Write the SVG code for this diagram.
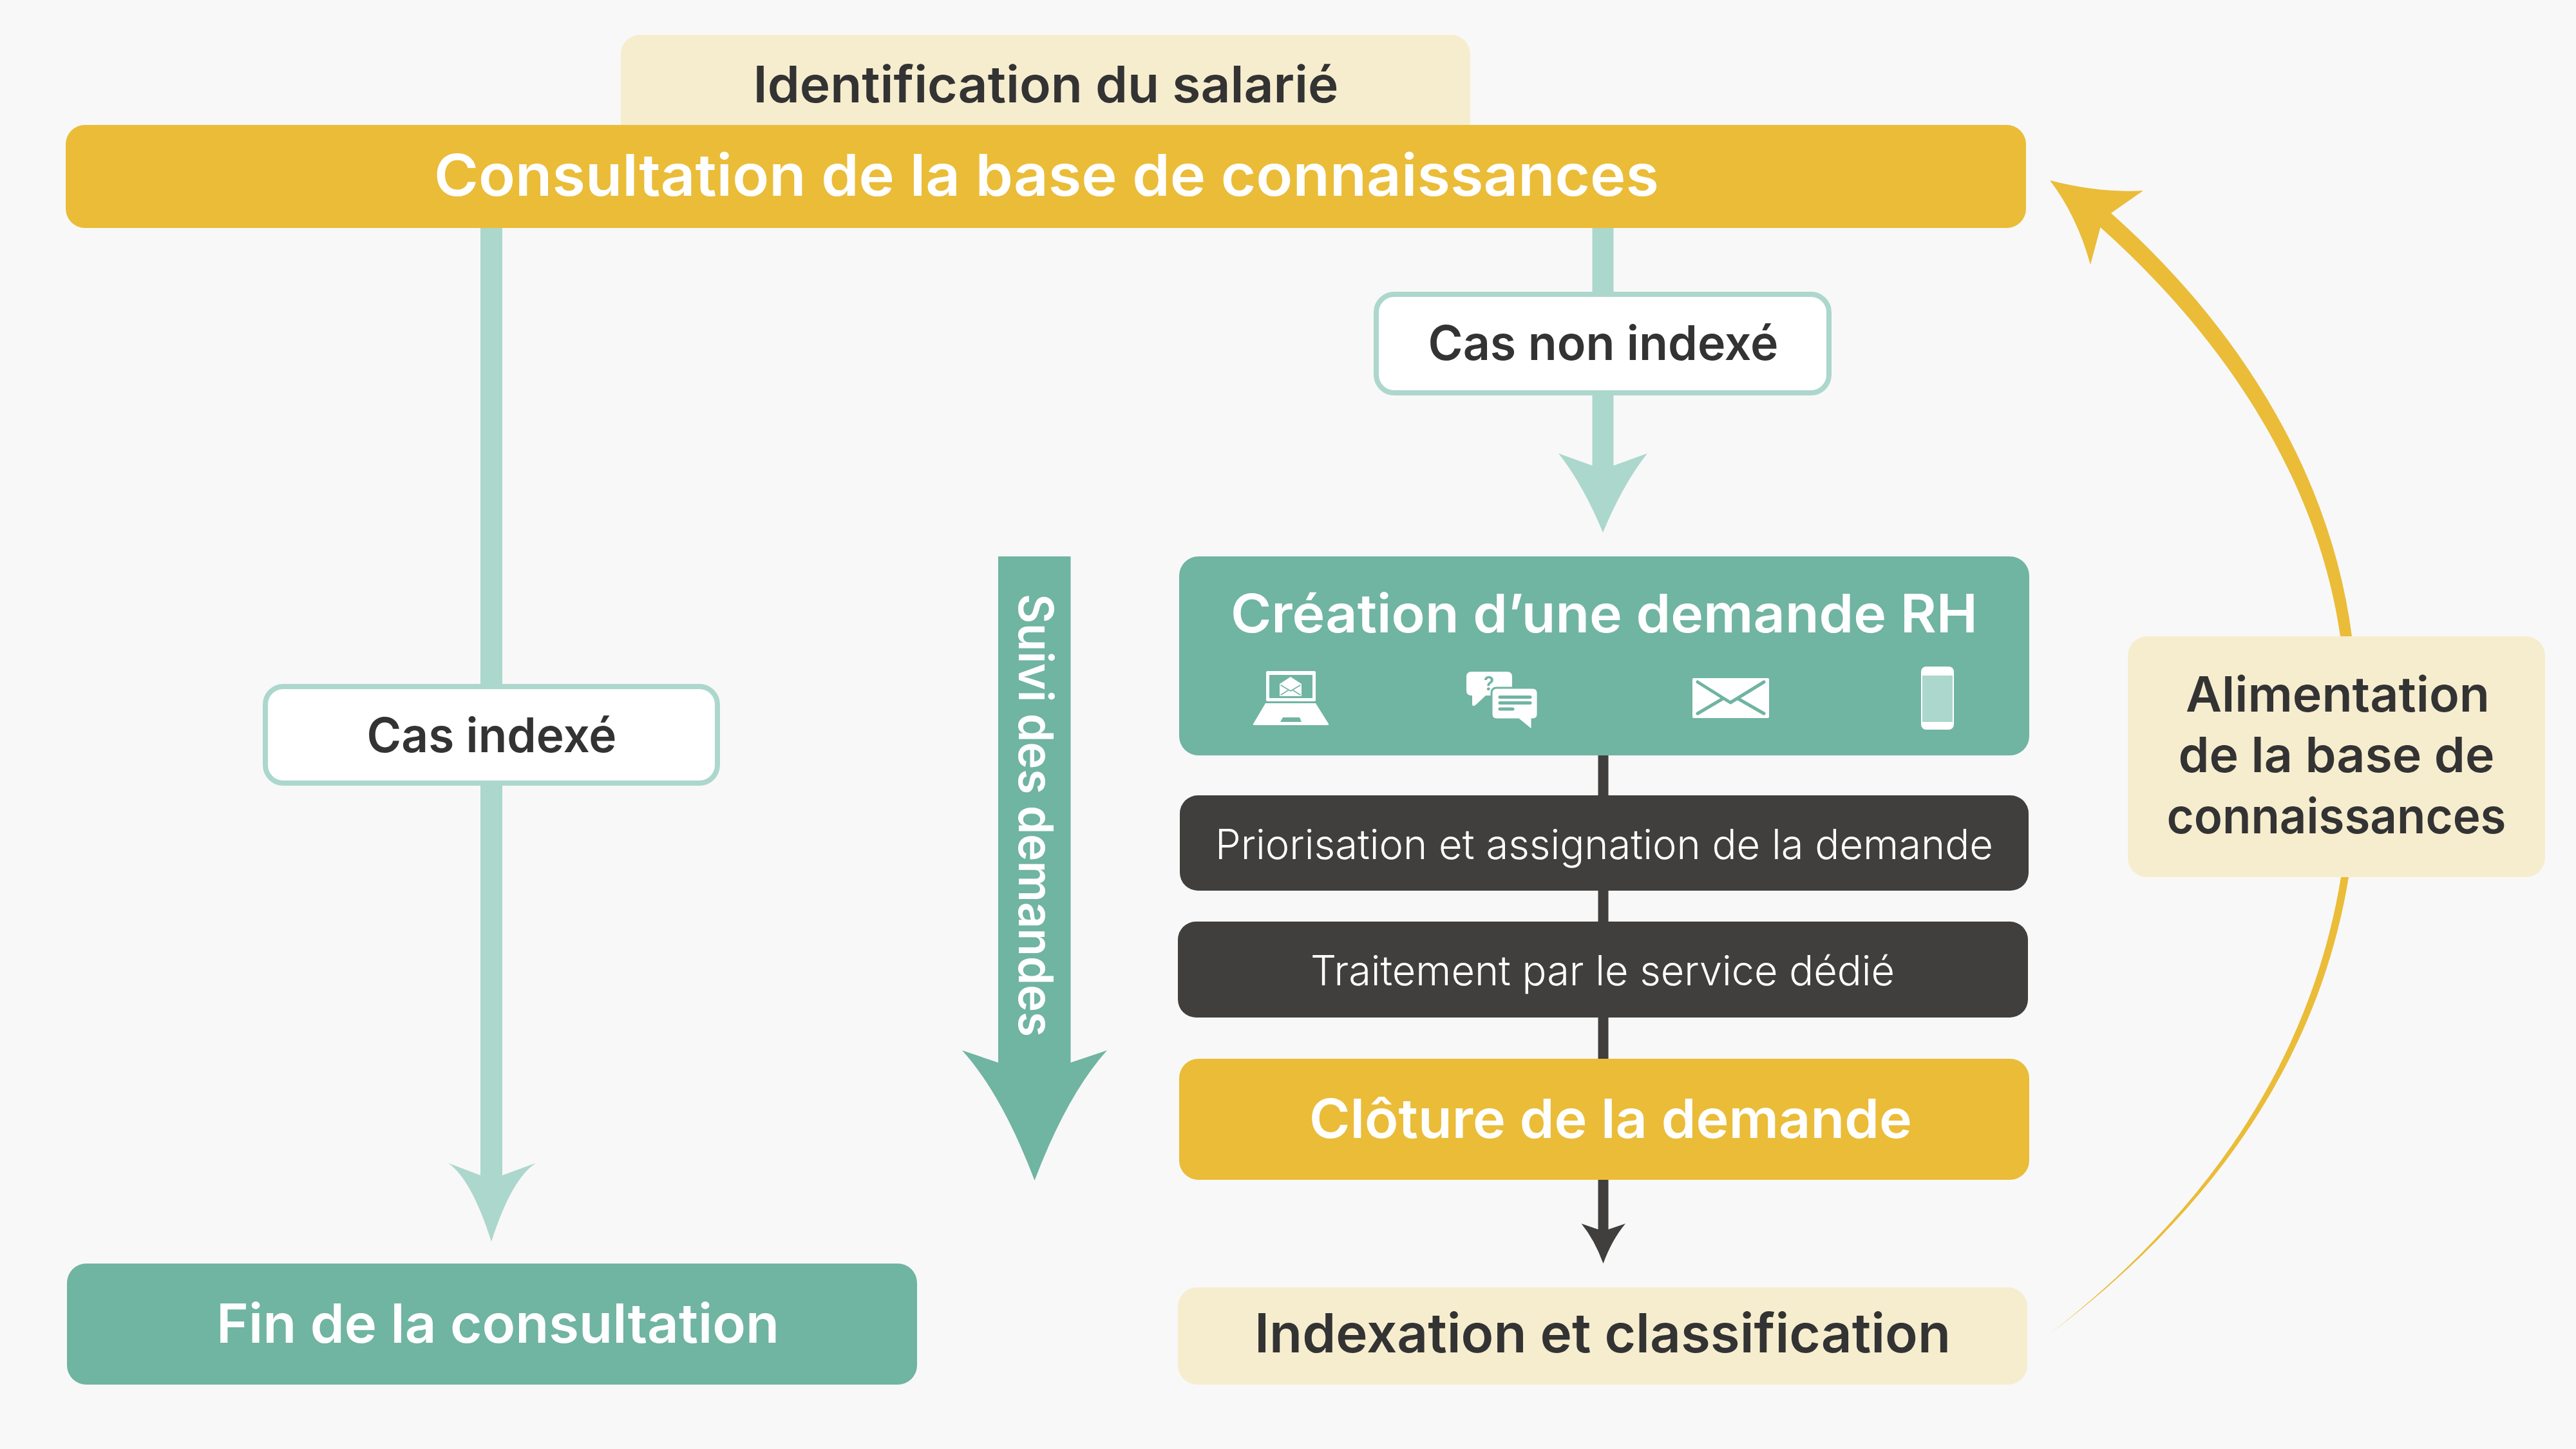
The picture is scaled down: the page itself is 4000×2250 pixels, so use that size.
<svg xmlns="http://www.w3.org/2000/svg" width="4000" height="2250" viewBox="0 0 4000 2250">
<style>
text{font-family:Inter,"Liberation Sans",sans-serif;font-weight:600;text-anchor:middle}
.w{fill:#fff}.d{fill:#333}.thin{font-weight:300}
.gold{fill:#eabc38}.pale{fill:#f6edcf}.teal{fill:#70b4a2}.dark{fill:#403f3d}.lt{fill:#acd7cc}
.lbl{fill:#fff;stroke:#acd7cc;stroke-width:8}
.ic{fill:#fff}.cut{fill:#70b4a2}.ln{fill:none;stroke:#70b4a2;stroke-linecap:round;stroke-linejoin:round}
</style>
<rect width="4000" height="2250" fill="#f8f8f8"/>
<g id="connectors">
<g class="lt">
<rect x="746" y="354" width="34" height="1480"/>
<path d="M763 1928Q732 1831 696 1806L746 1825H780L832 1806Q794 1831 763 1928Z"/>
<rect x="2472.500" y="354" width="33" height="380"/>
<path d="M2489 827Q2458 752 2420 704L2472.500 723H2505.500L2558 704Q2520 752 2489 827Z"/>
</g>
<g class="dark">
<rect x="2481.500" y="1173" width="16" height="745"/>
<path d="M2489.500 1962Q2476 1925 2455.500 1900L2481.500 1909H2497.500L2524 1900Q2503 1925 2489.500 1962Z"/>
</g>
<path id="suivi-arrow" class="teal" d="M1550 864H1662.500V1650L1719 1631Q1657 1700 1606.500 1833Q1556 1700 1494 1631L1550 1650Z"/>
<path id="alimentation-arc" class="gold" d="M3183 2071C3430 1885 3600 1650 3647 1362L3652 988C3620 740 3480 510 3278 331L3328 296Q3260 300 3183 280Q3225 335 3246 411L3261.500 353C3460 530 3600 750 3634 988L3635 1362C3588 1650 3424 1884 3183 2071Z"/>
</g>
<g id="identification">
<rect class="pale" x="964" y="54" width="1319" height="170" rx="30"/>
<text class="d" x="1624" y="159" font-size="78" textLength="909" lengthAdjust="spacingAndGlyphs">Identification du salarié</text>
</g>
<g id="consultation">
<rect class="gold" x="102" y="194" width="3044" height="160" rx="30"/>
<text class="w" x="1625" y="304" font-size="90" textLength="1902" lengthAdjust="spacingAndGlyphs">Consultation de la base de connaissances</text>
</g>
<g id="cas-non-indexe">
<rect class="lbl" x="2137" y="457" width="703" height="153" rx="28"/>
<text class="d" x="2489.500" y="559" font-size="74" textLength="544" lengthAdjust="spacingAndGlyphs">Cas non indexé</text>
</g>
<g id="cas-indexe">
<rect class="lbl" x="412" y="1066" width="702" height="150" rx="28"/>
<text class="d" x="763.500" y="1168" font-size="74" textLength="388" lengthAdjust="spacingAndGlyphs">Cas indexé</text>
</g>
<g id="suivi">
<text class="w" transform="translate(1582 1266) rotate(90)" font-size="74" textLength="688" lengthAdjust="spacingAndGlyphs">Suivi des demandes</text>
</g>
<g id="fin">
<rect class="teal" x="104" y="1962" width="1320" height="188" rx="30"/>
<text class="w" x="773" y="2085" font-size="84" textLength="874" lengthAdjust="spacingAndGlyphs">Fin de la consultation</text>
</g>
<g id="creation">
<rect class="teal" x="1831" y="864" width="1320" height="309" rx="30"/>
<text class="w" x="2491" y="982" font-size="82" textLength="1160" lengthAdjust="spacingAndGlyphs">Création d’une demande RH</text>
<g id="icon-laptop">
<rect class="ic" x="1966" y="1042" width="77" height="47" rx="2"/>
<rect class="cut" x="1971" y="1048" width="67" height="36"/>
<path class="ic" d="M2004 1051L2021 1062V1081H1987V1062Z"/>
<path class="ln" stroke-width="1.500" d="M1989 1064L2004 1073L2019 1064M1989 1079L2000 1072M2019 1079L2008 1072"/>
<path class="ic" d="M1965 1092H2043L2063 1124Q2064 1126 2061 1126H1948Q1945 1126 1946 1124Z"/>
<path class="cut" d="M1992 1114H2018L2021 1121H1988Z"/>
</g>
<g id="icon-chat">
<path class="ic" d="M2285 1043H2340Q2348 1043 2348 1051V1072Q2348 1080 2340 1080H2307L2291 1095Q2286 1098 2286 1093V1080H2285Q2277 1080 2277 1072V1051Q2277 1043 2285 1043Z"/>
<text x="2312" y="1072" font-size="30" style="fill:#70b4a2">?</text>
<path class="ic" stroke="#70b4a2" stroke-width="3" d="M2324 1068H2380Q2388 1068 2388 1076V1109Q2388 1117 2380 1117H2379V1130Q2378 1135 2374 1130L2358 1117H2324Q2316 1117 2316 1109V1076Q2316 1068 2324 1068Z"/>
<path class="ln" stroke-width="5" d="M2329 1082.500H2376M2329 1091.500H2376M2329 1101H2349"/>
</g>
<g id="icon-mail">
<rect class="ic" x="2628" y="1053" width="119" height="62" rx="2"/>
<path class="ln" stroke-width="5" d="M2636 1059L2687 1091L2739 1059M2636 1108L2675 1085M2739 1108L2699 1085"/>
</g>
<g id="icon-phone">
<rect class="ic" x="2983" y="1035" width="51" height="98" rx="8"/>
<rect class="lt" x="2985" y="1049" width="47" height="72"/>
</g>
</g>
<g id="priorisation">
<rect class="dark" x="1832" y="1235" width="1318" height="148" rx="28"/>
<text class="w thin" x="2491" y="1334" font-size="64" textLength="1208" lengthAdjust="spacingAndGlyphs">Priorisation et assignation de la demande</text>
</g>
<g id="traitement">
<rect class="dark" x="1829" y="1431" width="1320" height="149" rx="28"/>
<text class="w thin" x="2488.500" y="1530" font-size="64" textLength="907" lengthAdjust="spacingAndGlyphs">Traitement par le service dédié</text>
</g>
<g id="cloture">
<rect class="gold" x="1831" y="1644" width="1320" height="188" rx="30"/>
<text class="w" x="2501" y="1767" font-size="84" textLength="936" lengthAdjust="spacingAndGlyphs">Clôture de la demande</text>
</g>
<g id="indexation">
<rect class="pale" x="1829" y="1999" width="1319" height="151" rx="30"/>
<text class="d" x="2488.500" y="2100" font-size="84" textLength="1081" lengthAdjust="spacingAndGlyphs">Indexation et classification</text>
</g>
<g id="alimentation">
<rect class="pale" x="3304" y="988" width="648" height="374" rx="30"/>
<text class="d" x="3630" y="1105" font-size="76" textLength="472" lengthAdjust="spacingAndGlyphs">Alimentation</text>
<text class="d" x="3628" y="1199" font-size="76" textLength="491" lengthAdjust="spacingAndGlyphs">de la base de</text>
<text class="d" x="3628" y="1294" font-size="76" textLength="527" lengthAdjust="spacingAndGlyphs">connaissances</text>
</g>
</svg>
